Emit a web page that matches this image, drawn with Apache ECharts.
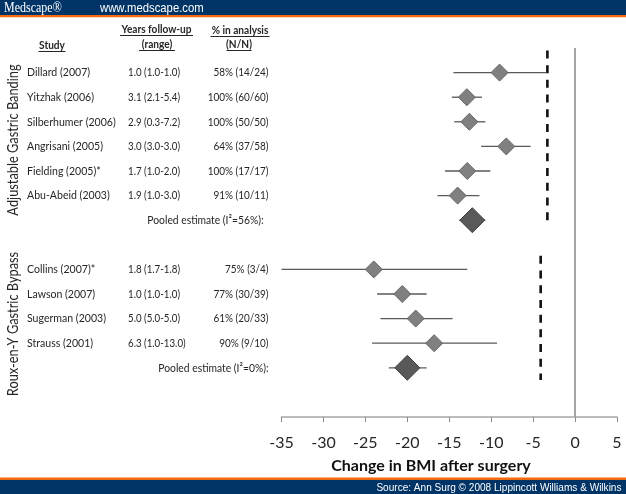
<!DOCTYPE html>
<html>
<head>
<meta charset="utf-8">
<script src="https://cdn.jsdelivr.net/npm/echarts@6/dist/echarts.min.js"></script>
<style>html,body{margin:0;padding:0;background:#fff}#c{width:626px;height:494px}</style>
</head>
<body>
<div id="c"></div>
<script>
// ---- data ----
const rowIndex   = [0, 1, 2, 3, 4, 5, 8, 9, 10, 11];
const studies    = ['Dillard (2007)', 'Yitzhak (2006)', 'Silberhumer (2006)', 'Angrisani (2005)', 'Fielding (2005)*', 'Abu-Abeid (2003)',
                    'Collins (2007)*', 'Lawson (2007)', 'Sugerman (2003)', 'Strauss (2001)'];
const followUp   = ['1.0 (1.0-1.0)', '3.1 (2.1-5.4)', '2.9 (0.3-7.2)', '3.0 (3.0-3.0)', '1.7 (1.0-2.0)', '1.9 (1.0-3.0)',
                    '1.8 (1.7-1.8)', '1.0 (1.0-1.0)', '5.0 (5.0-5.0)', '6.3 (1.0-13.0)'];
const inAnalysis = ['58% (14/24)', '100% (60/60)', '100% (50/50)', '64% (37/58)', '100% (17/17)', '91% (10/11)',
                    '75% (3/4)', '77% (30/39)', '61% (20/33)', '90% (9/10)'];
const estimate   = [-9.0, -12.9, -12.6, -8.2, -12.85, -14.0, -24.0, -20.6, -19.0, -16.8];
const ciLow      = [-14.5, -14.7, -14.4, -11.2, -15.5, -16.4, -35.0, -23.6, -23.2, -24.2];
const ciHigh     = [-3.4, -11.1, -10.7, -5.3, -10.1, -11.4, -12.85, -17.7, -14.6, -9.3];

const pooledRow    = [6, 12];
const pooledLabel  = ['Pooled estimate (I\u00B2=56%):', 'Pooled estimate (I\u00B2=0%):'];
const pooledEst    = [-12.25, -20.0];
const pooledLow    = [-13.8, -22.2];
const pooledHigh   = [-10.7, -17.7];

// dashed reference lines: x value, row start, row end
const refX     = [-3.3, -4.1];
const refStart = [-0.9, 7.45];
const refEnd   = [6.0, 12.5];

const groupNames = ['Adjustable Gastric Banding', 'Roux-en-Y Gastric Bypass'];
const xTicks = { min: -35, max: 5, interval: 5 };

// ---- chart ----
const chart = echarts.init(document.getElementById('c'), null, { renderer: 'canvas' });
const FONT = 'Lato, "Open Sans", sans-serif';
const TXT = '#262626';

const errData = rowIndex.map((r, i) => [ciLow[i], r, ciHigh[i]])
  .concat(pooledRow.map((r, i) => [pooledLow[i], r, pooledHigh[i]]));

function hLine(params, api) {
  const p1 = api.coord([api.value(0), api.value(1)]);
  const p2 = api.coord([api.value(2), api.value(1)]);
  return { type: 'line', shape: { x1: p1[0], y1: p1[1], x2: p2[0], y2: p2[1] },
           style: { stroke: '#595959', lineWidth: 1.3 } };
}
function vDash(params, api) {
  const p1 = api.coord([api.value(0), api.value(1)]);
  const p2 = api.coord([api.value(0), api.value(2)]);
  return { type: 'line', shape: { x1: p1[0], y1: p1[1], x2: p2[0], y2: p2[1] },
           style: { stroke: '#111', lineWidth: 2.6, lineDash: [8, 6.7] } };
}
function cell(t, x, y, align, sx) {
  return { type: 'text', x: x, y: y, scaleX: sx,
    style: { text: t, fill: TXT, font: '12px ' + FONT, align: align, verticalAlign: 'middle' } };
}
function tableText(params, api) {
  const i = params.dataIndex;
  const y = api.coord([0, api.value(1)])[1];
  return { type: 'group', children: [
    cell(studies[i], 27, y, 'left', 0.88),
    cell(followUp[i], 128, y, 'left', 0.81),
    cell(inAnalysis[i], 268.5, y, 'right', 0.83)
  ] };
}
function pooledText(params, api) {
  const i = params.dataIndex;
  const y = api.coord([0, api.value(1)])[1];
  return cell(pooledLabel[i], i === 0 ? 263.5 : 268.5, y, 'right', 0.86);
}

function headerText(t, x, y, w) {
  return [
    { type: 'text', x: x, y: y, scaleX: 0.92, style: { text: t, fill: TXT, font: 'bold 11px ' + FONT, align: 'center', verticalAlign: 'middle' } },
    { type: 'line', shape: { x1: x - w / 2, y1: y + 6.5, x2: x + w / 2, y2: y + 6.5 }, style: { stroke: TXT, lineWidth: 1 } }
  ];
}

const graphics = [
  { type: 'rect', shape: { x: 0, y: 0, width: 626, height: 15 }, style: { fill: '#003366' } },
  { type: 'rect', shape: { x: 0, y: 15, width: 626, height: 2.2 }, style: { fill: '#f26a10' } },
  { type: 'text', x: 4, y: 8, scaleX: 0.8, style: { text: 'Medscape\u00AE', fill: '#fff', font: '15px "Liberation Serif", serif', verticalAlign: 'middle' } },
  { type: 'text', x: 100, y: 8, scaleX: 0.87, style: { text: 'www.medscape.com', fill: '#fff', font: '13px "Liberation Sans", Arial, sans-serif', verticalAlign: 'middle' } },
  { type: 'rect', shape: { x: 0, y: 477.5, width: 626, height: 2.5 }, style: { fill: '#f26a10' } },
  { type: 'rect', shape: { x: 0, y: 480, width: 626, height: 14 }, style: { fill: '#003366' } },
  { type: 'text', x: 621.5, y: 487.5, scaleX: 0.875, style: { text: 'Source: Ann Surg \u00A9 2008 Lippincott Williams & Wilkins', fill: '#fff', font: '11.5px "Liberation Sans", Arial, sans-serif', align: 'right', verticalAlign: 'middle' } },
  { type: 'text', x: 431, y: 466, style: { text: 'Change in BMI after surgery', fill: '#111', font: 'bold 16px ' + FONT, align: 'center', verticalAlign: 'middle' } },
  { type: 'text', x: 13, y: 140, rotation: Math.PI / 2, scaleX: 0.8, style: { text: groupNames[0], fill: TXT, font: '16px ' + FONT, align: 'center', verticalAlign: 'middle' } },
  { type: 'text', x: 13, y: 324, rotation: Math.PI / 2, scaleX: 0.8, style: { text: groupNames[1], fill: TXT, font: '16px ' + FONT, align: 'center', verticalAlign: 'middle' } }
].concat(headerText('Study', 52, 45, 27))
 .concat(headerText('Years follow-up', 156.5, 29, 73))
 .concat(headerText('(range)', 157, 44, 36))
 .concat(headerText('% in analysis', 240, 30, 59))
 .concat(headerText('(N/N)', 239, 44, 25));

chart.setOption({
  animation: false,
  backgroundColor: '#fff',
  grid: { left: 281.5, right: 9, top: 48, bottom: 77, containLabel: false },
  xAxis: {
    type: 'value', min: xTicks.min, max: xTicks.max, interval: xTicks.interval,
    splitLine: { show: false },
    axisLine: { show: true, onZero: false, lineStyle: { color: '#a6a6a6', width: 1.5 } },
    axisTick: { show: true, length: 5, lineStyle: { color: '#8c8c8c', width: 1 } },
    axisLabel: { color: '#262626', fontSize: 16, fontFamily: FONT, margin: 18 }
  },
  yAxis: { type: 'value', inverse: true, min: -1, max: 14, show: false },
  graphic: graphics,
  series: [
    {
      type: 'custom', name: 'refs', clip: false, silent: true,
      renderItem: vDash,
      data: refX.map((x, i) => [x, refStart[i], refEnd[i]]),
      encode: { x: 0, y: [1, 2] },
      markLine: {
        silent: true, symbol: 'none', label: { show: false },
        lineStyle: { color: '#a6a6a6', width: 2, type: 'solid' },
        data: [{ xAxis: 0 }]
      }
    },
    {
      type: 'custom', name: 'ci', silent: true, renderItem: hLine,
      data: errData, encode: { x: [0, 2], y: 1 }
    },
    {
      type: 'scatter', name: 'studies', symbol: 'diamond', symbolSize: 17, silent: true,
      itemStyle: { color: '#808080', borderColor: '#666', borderWidth: 1, opacity: 1 },
      data: rowIndex.map((r, i) => [estimate[i], r])
    },
    {
      type: 'scatter', name: 'pooled', symbol: 'diamond', symbolSize: 25, silent: true,
      itemStyle: { color: '#595959', borderColor: '#404040', borderWidth: 1, opacity: 1 },
      data: pooledRow.map((r, i) => [pooledEst[i], r])
    },
    {
      type: 'custom', name: 'table', clip: false, silent: true, renderItem: tableText,
      data: rowIndex.map(r => [-35, r]), encode: { x: 0, y: 1 }
    },
    {
      type: 'custom', name: 'pooledText', clip: false, silent: true, renderItem: pooledText,
      data: pooledRow.map(r => [-35, r]), encode: { x: 0, y: 1 }
    }
  ]
});
</script>
</body>
</html>
